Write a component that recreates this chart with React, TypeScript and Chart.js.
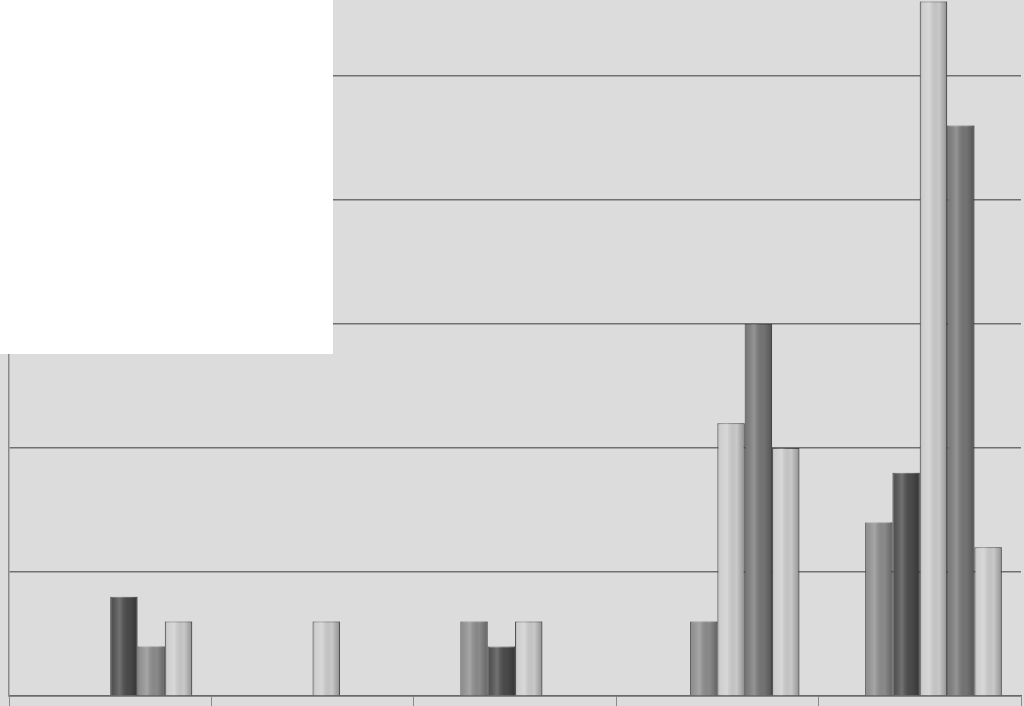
import {useEffect, useRef} from "react";
import {Chart, registerables} from "chart.js";

Chart.register(...registerables);

// five categories, bars sit in six fixed slots per category (first slot never used)
const categories = ["1", "2", "3", "4", "5"];
const slot1 = [null, null, null, null, null];
const slot2 = [null, null, 3, null, 7];
const slot3 = [null, null, 2, 3, 9];
const slot4 = [4, 3, 3, 11, 28];
const slot5 = [2, null, null, 15, 23];
const slot6 = [3, null, null, 10, 6];

const yTicks = [0, 5, 10, 15, 20, 25, 30];

// grey shades used by the bars
const L = "#cdcdcd";
const M = "#8d8d8d";
const D = "#4b4b4b";
const MD = "#767676";
const slotColors = [
    [L, L, L, L, L],
    [M, M, M, M, M],
    [D, D, D, M, D],
    [D, L, L, L, L],
    [M, M, M, MD, MD],
    [L, L, L, L, L],
];

// cylinder-like shading painted over each bar
const shadePlugin = {
    id: "shade",
    afterDatasetsDraw(chart: any) {
        const ctx = chart.ctx;
        chart.data.datasets.forEach((ds: any, i: number) => {
            const meta = chart.getDatasetMeta(i);
            meta.data.forEach((bar: any, j: number) => {
                if (ds.data[j] == null) return;
                const {x, y, base, width} = bar.getProps(["x", "y", "base", "width"], true);
                const left = x - width / 2;
                const g = ctx.createLinearGradient(left, 0, left + width, 0);
                g.addColorStop(0, "rgba(0,0,0,0.18)");
                g.addColorStop(0.12, "rgba(255,255,255,0.05)");
                g.addColorStop(0.35, "rgba(255,255,255,0.22)");
                g.addColorStop(0.7, "rgba(0,0,0,0.02)");
                g.addColorStop(0.92, "rgba(0,0,0,0.22)");
                g.addColorStop(1, "rgba(0,0,0,0.3)");
                ctx.save();
                ctx.fillStyle = g;
                ctx.fillRect(left, y, width, base - y);
                ctx.restore();
            });
        });
    },
};

const App = () => {
    const canvasRef = useRef<HTMLCanvasElement>(null);

    useEffect(() => {
        if (!canvasRef.current) return;
        const ctx = canvasRef.current.getContext("2d");
        if (!ctx) return;

        const slots = [slot1, slot2, slot3, slot4, slot5, slot6];

        const chart = new Chart(ctx, {
            type: "bar",
            data: {
                labels: categories,
                datasets: slots.map((data, i) => ({
                    label: "Serie " + (i + 1),
                    data,
                    backgroundColor: slotColors[i],
                    borderColor: "#5a5a5a",
                    borderWidth: 1,
                    barPercentage: 1,
                    categoryPercentage: 0.81,
                })),
            },
            options: {
                responsive: false,
                animation: false,
                devicePixelRatio: 1,
                layout: {padding: {left: 9, right: 3, top: 12, bottom: 12}},
                plugins: {
                    legend: {display: false},
                    tooltip: {enabled: false},
                },
                scales: {
                    x: {
                        ticks: {display: false},
                        grid: {
                            drawOnChartArea: false,
                            drawTicks: true,
                            tickLength: 12,
                            color: "#8a8a8a",
                        },
                        border: {color: "#6a6a6a", width: 1.5},
                    },
                    y: {
                        min: yTicks[0],
                        max: yTicks[yTicks.length - 1],
                        afterBuildTicks: (axis: any) => {
                            axis.ticks = yTicks.map((v) => ({value: v}));
                        },
                        ticks: {display: false},
                        grid: {color: "#707070", lineWidth: 1.5, drawTicks: false},
                        border: {color: "#8a8a8a", width: 1.5},
                    },
                },
            },
            plugins: [shadePlugin],
        });
        return () => {
            chart.destroy();
        };
    }, []);

    return (
        <div
            style={{
                position: "absolute",
                left: 0,
                top: 0,
                width: 1024,
                height: 706,
                overflow: "hidden",
                background: "#dcdcdc",
            }}
        >
            <canvas
                ref={canvasRef}
                width={1024}
                height={780}
                style={{position: "absolute", left: 0, top: -60}}
            ></canvas>
            <div
                style={{
                    position: "absolute",
                    left: 0,
                    top: 0,
                    width: 333,
                    height: 354,
                    background: "#ffffff",
                }}
            ></div>
        </div>
    );
};

export default App;
